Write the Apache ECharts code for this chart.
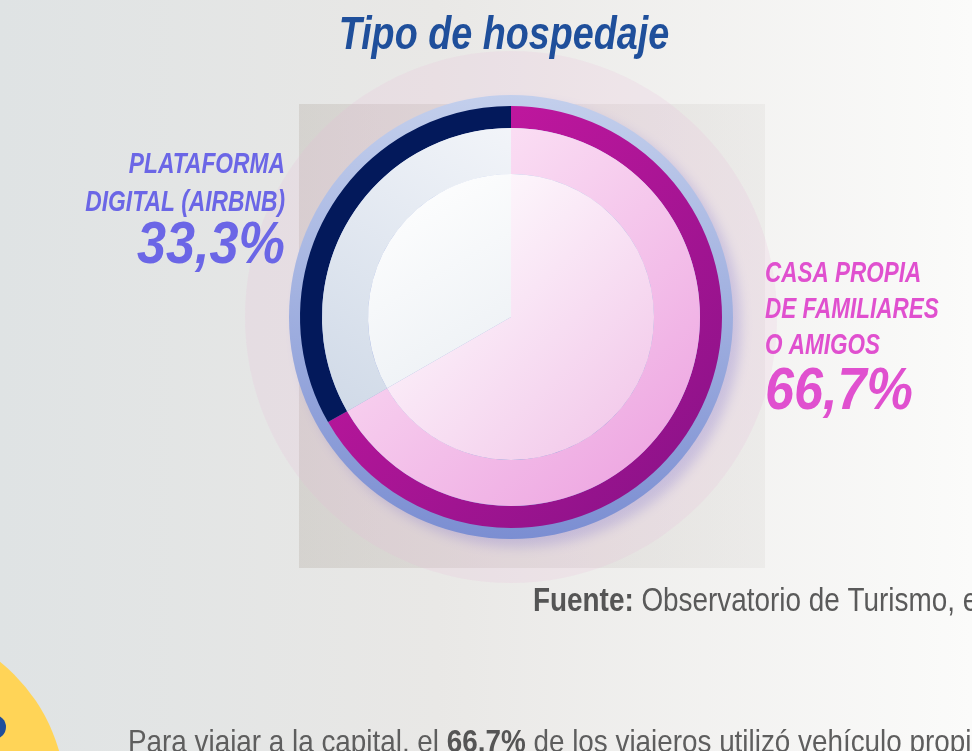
<!DOCTYPE html>
<html>
<head>
<meta charset="utf-8">
<script src="https://cdn.jsdelivr.net/npm/echarts@6/dist/echarts.min.js"></script>
<style>
  html, body { margin: 0; padding: 0; }
  #chart { width: 972px; height: 751px; }
</style>
</head>
<body>
<div id="chart"></div>
<script>
// datos del gráfico
var titleText = 'Tipo de hospedaje'
var categories = ['CASA PROPIA\nDE FAMILIARES\nO AMIGOS', 'PLATAFORMA\nDIGITAL (AIRBNB)']
var values = [66.7, 33.3]
var sourceLabel = 'Fuente:'
var sourceText = ' Observatorio de Turismo, elaboración propia'
var noteParts = ['Para viajar a la capital, el ', '66.7%', ' de los viajeros utilizó vehículo propio']

// no hay fuente condensada instalada: se estrecha Liberation Sans con scaleX
var FONT = '"Liberation Sans", Arial, sans-serif'
var cx = 511
var cy = 317

function pct (v) {
  return v.toFixed(1).replace('.', ',') + '%'
}

function grad (x, y, x2, y2, c0, c1) {
  return {
    type: 'linear', x: x, y: y, x2: x2, y2: y2, global: true,
    colorStops: [{ offset: 0, color: c0 }, { offset: 1, color: c1 }]
  }
}

var outerColors = [grad(330, 140, 700, 500, '#cc18a3', '#8a1288'), '#03195b']
var midColors = [grad(400, 150, 700, 500, '#fce6f6', '#ec9fdf'), grad(520, 110, 330, 420, '#f4f6fa', '#cfd9e7')]
var innerColors = [grad(400, 200, 650, 460, '#ffffff', '#f1c3e8'), grad(380, 180, 520, 420, '#ffffff', '#e8edf2')]

function pieData (colors) {
  return values.map(function (v, i) {
    return { name: categories[i], value: v, itemStyle: { color: colors[i] } }
  })
}

function ring (r0, r1, colors) {
  return {
    type: 'pie',
    center: [cx, cy],
    radius: [r0, r1],
    startAngle: 90,
    clockwise: true,
    silent: true,
    label: { show: false },
    labelLine: { show: false },
    itemStyle: { borderWidth: 0 },
    data: pieData(colors)
  }
}

var chart = echarts.init(document.getElementById('chart'))
chart.setOption({
  animation: false,
  backgroundColor: {
    type: 'linear', x: 0, y: 0, x2: 1, y2: 0,
    colorStops: [
      { offset: 0, color: '#dfe3e4' },
      { offset: 0.45, color: '#e9e8e6' },
      { offset: 1, color: '#fbfbfa' }
    ]
  },
  graphic: [
    // caja gris y círculo rosado de fondo
    {
      type: 'rect', z: -2, silent: true,
      shape: { x: 299, y: 104, width: 466, height: 464 },
      style: { fill: grad(299, 0, 765, 0, 'rgba(170,160,150,0.28)', 'rgba(180,175,170,0.12)') }
    },
    {
      type: 'circle', z: -1, silent: true,
      shape: { cx: cx, cy: cy, r: 266 },
      style: { fill: 'rgba(235,185,215,0.18)' }
    },
    // anillo azul exterior
    {
      type: 'circle', z: 0, silent: true,
      shape: { cx: cx, cy: cy, r: 222 },
      style: {
        fill: grad(0, 95, 0, 540, '#c3cfec', '#7b8ed2'),
        shadowBlur: 12,
        shadowOffsetX: 8,
        shadowOffsetY: 8,
        shadowColor: 'rgba(90,80,200,0.22)'
      }
    },
    // círculo amarillo abajo a la izquierda
    {
      type: 'circle', silent: true,
      shape: { cx: -112, cy: 800, r: 178 },
      style: { fill: '#ffd457' }
    },
    {
      type: 'circle', silent: true,
      shape: { cx: -6, cy: 727, r: 12 },
      style: { fill: '#1f4e9c' }
    },
    // título
    {
      type: 'text', x: 504, y: 13, scaleX: 0.82,
      style: {
        text: titleText, align: 'center', verticalAlign: 'top',
        font: 'italic bold 46px ' + FONT, fill: '#1f4f9b'
      }
    },
    // etiquetas
    {
      type: 'text', x: 285, y: 146, scaleX: 0.76,
      style: {
        text: categories[1], align: 'right', verticalAlign: 'top',
        font: 'italic bold 30px ' + FONT, lineHeight: 37.5, fill: '#6b66e6'
      }
    },
    {
      type: 'text', x: 285, y: 216, scaleX: 0.87,
      style: {
        text: pct(values[1]), align: 'right', verticalAlign: 'top',
        font: 'italic bold 60px ' + FONT, fill: '#6b66e6'
      }
    },
    {
      type: 'text', x: 765, y: 256, scaleX: 0.75,
      style: {
        text: categories[0], align: 'left', verticalAlign: 'top',
        font: 'italic bold 30px ' + FONT, lineHeight: 36, fill: '#e050cf'
      }
    },
    {
      type: 'text', x: 765, y: 362, scaleX: 0.87,
      style: {
        text: pct(values[0]), align: 'left', verticalAlign: 'top',
        font: 'italic bold 60px ' + FONT, fill: '#e050cf'
      }
    },
    // fuente
    {
      type: 'text', x: 533, y: 585, scaleX: 0.82,
      style: {
        text: '{b|' + sourceLabel + '}{n|' + sourceText + '}',
        verticalAlign: 'top',
        rich: {
          b: { fontFamily: FONT, fontSize: 34, fontWeight: 'bold', fill: '#555555' },
          n: { fontFamily: FONT, fontSize: 34, fill: '#5a5a5a' }
        }
      }
    },
    // nota inferior
    {
      type: 'text', x: 128, y: 727, scaleX: 0.87,
      style: {
        text: '{n|' + noteParts[0] + '}{b|' + noteParts[1] + '}{n|' + noteParts[2] + '}',
        verticalAlign: 'top',
        rich: {
          b: { fontFamily: FONT, fontSize: 32, fontWeight: 'bold', fill: '#555555' },
          n: { fontFamily: FONT, fontSize: 32, fill: '#5e5e5e' }
        }
      }
    }
  ],
  series: [
    ring(189, 211, outerColors),
    ring(143, 189, midColors),
    ring(0, 143, innerColors)
  ]
})
</script>
</body>
</html>
